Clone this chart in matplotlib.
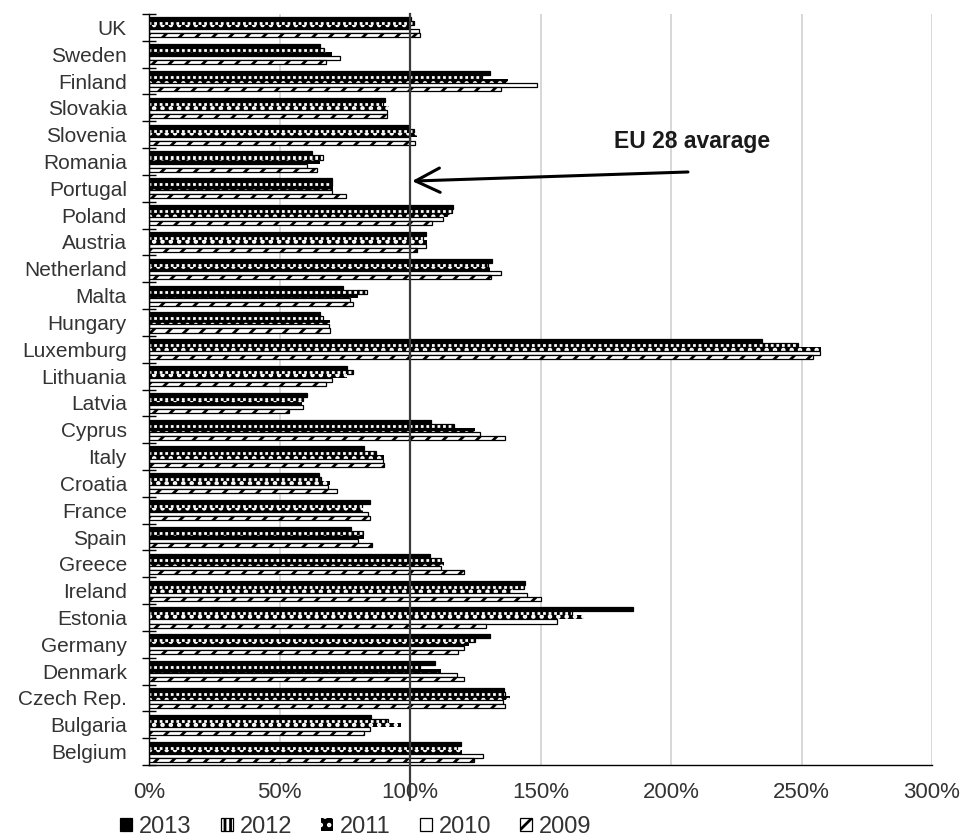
import matplotlib
matplotlib.use("Agg")
import matplotlib.pyplot as plt
import numpy as np

plt.rcParams['font.family'] = ['Liberation Sans', 'DejaVu Sans']
plt.rcParams['hatch.linewidth'] = 2.0

# countries listed bottom to top, as they appear on the axis
countries = ["Belgium", "Bulgaria", "Czech Rep.", "Denmark", "Germany", "Estonia",
             "Ireland", "Greece", "Spain", "France", "Croatia", "Italy", "Cyprus",
             "Latvia", "Lithuania", "Luxemburg", "Hungary", "Malta", "Netherland",
             "Austria", "Poland", "Portugal", "Romania", "Slovenia", "Slovakia",
             "Finland", "Sweden", "UK"]

# share of EU 28 average, in percent
v2013 = [119.5, 85.0, 136.0, 109.5, 130.5, 185.5, 144.0, 107.5, 77.5, 84.5, 65.0, 82.5,
         108.0, 60.5, 76.0, 235.0, 65.5, 74.5, 131.5, 106.0, 116.5, 70.0, 62.5, 99.5,
         90.5, 130.5, 65.5, 100.5]
v2012 = [118.0, 91.5, 136.5, 104.0, 125.0, 162.0, 143.5, 112.0, 82.0, 81.5, 66.0, 87.0,
         117.0, 59.0, 78.0, 248.5, 66.5, 83.5, 130.0, 105.0, 116.0, 70.0, 66.5, 101.5,
         89.5, 127.5, 67.0, 101.5]
v2011 = [120.0, 96.5, 138.5, 112.0, 122.5, 166.5, 139.5, 113.0, 82.5, 82.0, 69.5, 90.0,
         125.0, 58.5, 76.0, 257.5, 69.5, 80.0, 130.5, 106.5, 115.5, 70.5, 65.5, 102.5,
         92.0, 137.5, 70.0, 100.5]
v2010 = [128.0, 84.5, 135.5, 118.0, 120.5, 156.5, 145.0, 112.0, 80.0, 84.0, 68.5, 89.5,
         127.0, 59.0, 70.0, 257.0, 69.0, 77.0, 135.0, 106.0, 112.5, 70.0, 60.5, 100.0,
         91.0, 148.5, 73.0, 103.5]
v2009 = [124.5, 82.5, 136.5, 120.5, 118.5, 129.0, 150.0, 120.5, 85.5, 84.5, 72.0, 90.0,
         136.5, 53.5, 68.0, 254.5, 69.5, 78.0, 131.0, 102.5, 108.5, 75.5, 64.5, 102.0,
         91.0, 135.0, 68.0, 104.0]

years = ["2013", "2012", "2011", "2010", "2009"]
values = [v2013, v2012, v2011, v2010, v2009]

# fill / hatch style for each year
styles = [
    dict(color="black", edgecolor="black", linewidth=0.9),
    dict(color="white", edgecolor="black", hatch="|||", linewidth=0.9),
    dict(color="black", edgecolor="white", hatch="..", linewidth=0),
    dict(color="white", edgecolor="black", linewidth=0.9),
    dict(color="white", edgecolor="black", hatch="//", linewidth=0.9),
]

fig = plt.figure(figsize=(9.6, 8.38), dpi=100)
ax = fig.add_axes([149 / 960, 1 - 765 / 838, 783 / 960, 751 / 838])

y = np.arange(len(countries))
h = 0.15
for k, (yr, vals, st) in enumerate(zip(years, values, styles)):
    ax.barh(y + (2 - k) * h, vals, height=h, label=yr, zorder=3, **st)

ax.set_xlim(0, 300)
ax.set_ylim(-0.5, len(countries) - 0.5)

xt = np.arange(0, 301, 50)
ax.set_xticks(xt)
ax.set_xticklabels([f"{t}%" for t in xt], fontsize=16, color="#333333")
ax.tick_params(axis="x", length=0, pad=12)
for t in xt[1:]:
    if t != 100:
        ax.axvline(t, color="#d4d4d4", lw=1.3, zorder=1)

ax.set_yticks(y)
ax.set_yticklabels(countries, fontsize=15, color="#333333")
ax.tick_params(axis="y", which="major", length=0, pad=16)
ax.set_yticks(np.arange(-0.5, len(countries), 1), minor=True)
ax.tick_params(axis="y", which="minor", direction="inout", length=10, width=1, color="black")

for s in ["top", "right"]:
    ax.spines[s].set_visible(False)
for s in ["left", "bottom"]:
    ax.spines[s].set_color("black")
    ax.spines[s].set_linewidth(1)
    ax.spines[s].set_zorder(4)

# EU 28 average marker line, running down past the axis
ax.axvline(100, ymin=-0.047, ymax=1, color="#3a3a3a", lw=1.6, zorder=5, clip_on=False)

ax.text(208, 22.76, "EU 28 avarage", ha="center", va="center",
        fontsize=16.5, fontweight="bold", color="#1a1a1a")
ax.annotate("", xy=(100.8, 21.27), xytext=(206.5, 21.61),
            arrowprops=dict(arrowstyle="->,head_length=0.7,head_width=0.35",
                            lw=2.2, color="black", mutation_scale=25,
                            shrinkA=0, shrinkB=0), zorder=6)

leg = fig.legend(loc="center", bbox_to_anchor=(356 / 960, 1 - 827 / 838), ncol=5,
                 frameon=False, fontsize=17, handlelength=0.5, handleheight=0.5,
                 handletextpad=0.3, columnspacing=1.23, borderaxespad=0)
for t in leg.get_texts():
    t.set_color("#333333")

fig.savefig("out.png", dpi=100)
